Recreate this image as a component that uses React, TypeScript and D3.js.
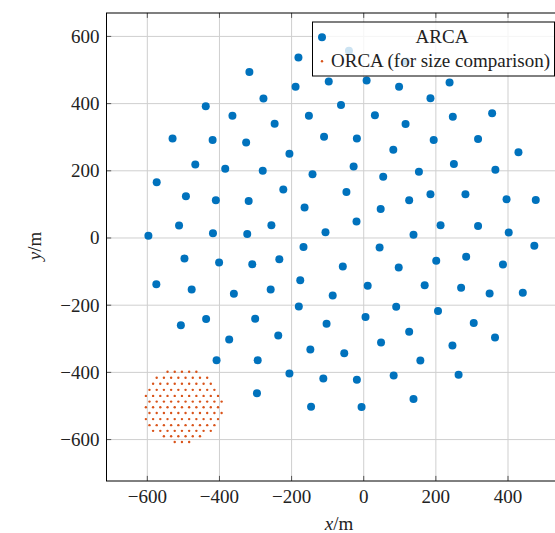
import React from 'react';
import * as d3 from 'd3';

// ARCA detection-unit positions (m)
const arcaX = [
  -181, -317, -189, -97, -278, -438, -364, -152, -247, -530, -419, -326, -110, -206, -467, -384, -280, -142, -574, -223,
  -493, -410, -319, -164, -512, -256, -106, -597, -418, -323, -167,
  -41, 117, 8, 98, 238, 185, -63, 31, 116, 247, 356, -19, 194, 317, 82, 429, -28, 250, 54, 153,
  365, -48, 185, 282, 126, 396, 477, 47, -20, 213, 317, 138, 402, 44, 473,
  -497, -401, -309, -234, -575, -477, -360, -258, -176, -180, -507, -437, -301, -373, -237, -103, -148, -408, -294, -206,
  -112, -296, -146,
  -58, 97, 201, 284, 386, 11, -86, 169, 270, 349, 441, 90, 206, 5, 126, 305, 364, 48, 246, -54,
  157, -19, 83, 263, -6, 138,
];
const arcaY = [
  537, 494, 450, 466, 415, 392, 364, 364, 340, 296, 292, 284, 301, 251, 219, 206, 200, 190, 166, 144,
  124, 112, 110, 91, 37, 38, 17, 7, 14, 12, -27,
  557, 525, 469, 450, 463, 416, 396, 365, 339, 361, 371, 296, 292, 295, 263, 255, 213, 220, 182, 197,
  203, 137, 130, 130, 112, 115, 113, 86, 49, 38, 36, 10, 16, -28, -23,
  -61, -73, -78, -63, -138, -153, -166, -153, -126, -204, -260, -241, -240, -302, -290, -255, -332, -364, -364, -403,
  -418, -462, -502,
  -85, -88, -68, -56, -79, -142, -171, -141, -148, -165, -163, -205, -217, -235, -279, -253, -296, -311, -320, -343,
  -365, -422, -409, -407, -503, -479,
];

// ORCA footprint (for size comparison), read row by row
const orcaRowY = [-398, -416, -434, -452, -470, -487, -504, -521, -539, -557, -574, -590, -607];
const orcaRowX = [
  [-544, -524, -504, -484, -464],
  [-574, -554, -534, -514, -494, -474, -454, -434],
  [-584, -564, -544, -524, -504, -484, -464, -444, -424],
  [-594, -574, -554, -534, -514, -494, -474, -454, -434, -414],
  [-604, -584, -564, -544, -524, -504, -484, -464, -444, -424, -404],
  [-594, -574, -554, -534, -514, -494, -474, -454, -434, -414, -394],
  [-604, -584, -564, -544, -524, -504, -484, -464, -444, -424, -404],
  [-594, -574, -554, -534, -514, -494, -474, -454, -434, -414, -394],
  [-604, -584, -564, -544, -524, -504, -484, -464, -444, -424, -404],
  [-594, -574, -554, -534, -514, -494, -474, -454, -434, -414],
  [-584, -564, -544, -524, -504, -484, -464, -444, -424],
  [-554, -534, -514, -494, -474, -454],
  [-524, -504, -484],
];

const xTicks = [-600, -400, -200, 0, 200, 400];
const yTicks = [-600, -400, -200, 0, 200, 400, 600];
const legendLabels = ['ARCA', 'ORCA (for size comparison)'];

const BLUE = '#0072bd';
const ORANGE = '#d95319';
const FONT = '"Liberation Serif", "Times New Roman", serif';

const fmt = (v: number) => (v < 0 ? '\u2212' + Math.abs(v) : String(v));

export default function App() {
  const W = 555;
  const H = 533;
  const x = d3.scaleLinear().domain([-714, 545]).range([106.2, 560.3]);
  const y = d3.scaleLinear().domain([-723, 670]).range([480.9, 12.9]);
  const [x0, x1] = x.range();
  const [yb, yt] = y.range();

  const arca = arcaX.map((v, i) => ({ x: v, y: arcaY[i] }));
  const orca = orcaRowY.flatMap((ry, i) => orcaRowX[i].map((rx) => ({ x: rx, y: ry })));

  return (
    <svg
      width={W}
      height={H}
      style={{ position: 'absolute', left: 0, top: 0, background: '#fff' }}
      fontFamily={FONT}
    >
      <rect x={0} y={0} width={W} height={H} fill="#fff" />
      {/* grid */}
      <g stroke="#cfcfcf" strokeWidth={1}>
        {xTicks.map((t) => (
          <line key={'gx' + t} x1={x(t)} x2={x(t)} y1={yt} y2={yb} />
        ))}
        {yTicks.map((t) => (
          <line key={'gy' + t} x1={x0} x2={x1} y1={y(t)} y2={y(t)} />
        ))}
      </g>
      {/* ticks (inward) */}
      <g stroke="#555" strokeWidth={1}>
        {xTicks.map((t) => (
          <g key={'tx' + t}>
            <line x1={x(t)} x2={x(t)} y1={yb} y2={yb - 5} />
            <line x1={x(t)} x2={x(t)} y1={yt} y2={yt + 5} />
          </g>
        ))}
        {yTicks.map((t) => (
          <g key={'ty' + t}>
            <line x1={x0} x2={x0 + 5} y1={y(t)} y2={y(t)} />
            <line x1={x1} x2={x1 - 5} y1={y(t)} y2={y(t)} />
          </g>
        ))}
      </g>
      {/* ARCA */}
      <g fill={BLUE}>
        {arca.map((d, i) => (
          <circle key={'a' + i} cx={x(d.x)} cy={y(d.y)} r={4} />
        ))}
      </g>
      {/* ORCA */}
      <g fill={ORANGE}>
        {orca.map((d, i) => (
          <circle key={'o' + i} cx={x(d.x)} cy={y(d.y)} r={1.2} />
        ))}
      </g>
      {/* frame */}
      <rect x={x0 + 0.3} y={yt + 0.1} width={x1 - x0} height={yb - yt} fill="none" stroke="#000" strokeWidth={1} />
      {/* tick labels */}
      <g fontSize={19} fill="#222">
        {xTicks.map((t) => (
          <text key={'lx' + t} x={x(t)} y={503} textAnchor="middle">
            {fmt(t)}
          </text>
        ))}
        {yTicks.map((t) => (
          <text key={'ly' + t} x={99.5} y={y(t) + 6.5} textAnchor="end">
            {fmt(t)}
          </text>
        ))}
      </g>
      {/* axis labels */}
      <text x={339} y={530} textAnchor="middle" fontSize={19} fill="#222">
        <tspan fontStyle="italic">x</tspan>/m
      </text>
      <text transform="translate(40.5,246) rotate(-90)" textAnchor="middle" fontSize={19} fill="#222">
        <tspan fontStyle="italic">y</tspan>/m
      </text>
      {/* legend */}
      <g>
        <rect x={312.5} y={22} width={242} height={54} fill="#fff" fillOpacity={0.8} stroke="#000" strokeWidth={1} />
        <circle cx={322} cy={37.3} r={4} fill={BLUE} />
        <text x={442} y={42.5} textAnchor="middle" fontSize={19} fill="#222">
          {legendLabels[0]}
        </text>
        <circle cx={322} cy={61.3} r={1.2} fill={ORANGE} />
        <text x={331} y={67} fontSize={19} fill="#222">
          {legendLabels[1]}
        </text>
      </g>
    </svg>
  );
}
